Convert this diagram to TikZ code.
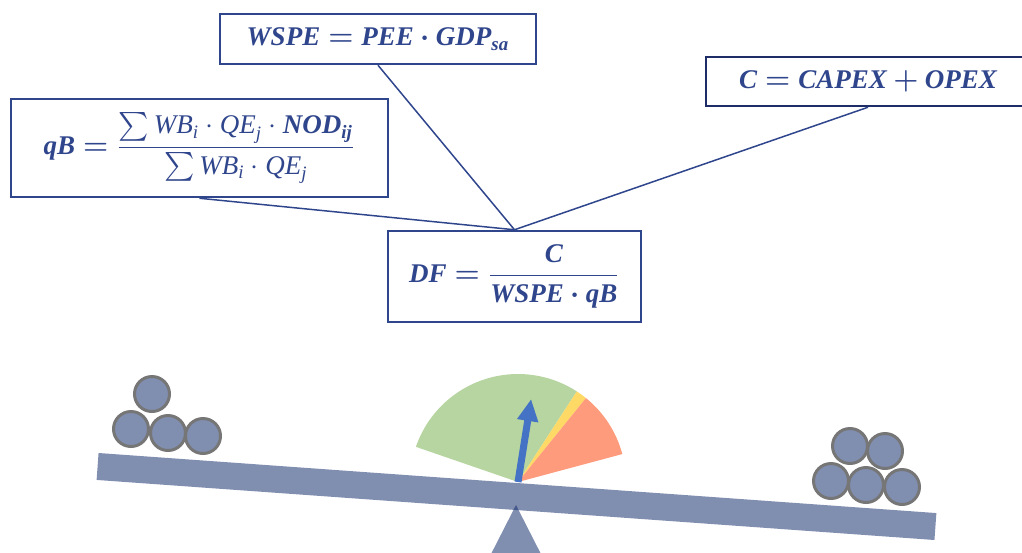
\documentclass[tikz,border=0pt]{standalone}
\usepackage{amsmath}
\usepackage{bm}
\usepackage{fontspec}
\setmainfont{Liberation Serif}
\usetikzlibrary{arrows.meta}
\definecolor{formulablue}{RGB}{47, 69, 140}
\definecolor{framenavy}{RGB}{30, 44, 104}
\definecolor{plankgray}{RGB}{128, 142, 176}
\definecolor{pivotnavy}{RGB}{20, 46, 109}
\definecolor{ballgray}{RGB}{118, 118, 118}
\definecolor{safegreen}{RGB}{183, 213, 160}
\definecolor{warnyellow}{RGB}{255, 217, 102}
\definecolor{dangerred}{RGB}{255, 155, 125}
\definecolor{needleblue}{RGB}{68, 114, 196}
% bold italic and plain italic variable names
\newcommand{\bv}[1]{\text{\bfseries\itshape #1}}
\newcommand{\iv}[1]{\text{\itshape #1}}
\tikzset{%
    formula/.style={%
        draw=formulablue, line width=1.25pt, text=formulablue,
        inner sep=0pt, font=\fontsize{13.5}{16}\selectfont
    },
    link/.style={draw=formulablue, line width=0.75pt},
    ball/.style={%
        circle, fill=plankgray, draw=ballgray, line width=1.5pt,
        minimum size=17.5pt, inner sep=0pt
    },
    plank/.style={%
        fill=plankgray, minimum width=420pt, minimum height=13.5pt,
        inner sep=0pt
    }
}

\begin{document}
\begin{tikzpicture}[x=0.5pt, y=-0.5pt]

    \clip (0, 0) rectangle (1022, 552);

    % Formulas
    \node[formula, minimum width=158pt, minimum height=25pt] (wspe)
        at (378, 39)
        {$\bv{WSPE} \bm{=} \bv{PEE} \bm{\cdot} \bv{GDP}_{\bv{sa}}$};
    \node[formula, draw=framenavy, minimum width=162pt, minimum height=24.5pt]
        (cost) at (868, 81.5) {$\bv{C} \bm{=} \bv{CAPEX} \bm{+} \bv{OPEX}$};
    \node[formula, minimum width=188.5pt, minimum height=49pt] (qb)
        at (199.5, 148)
        {$\bv{qB} \bm{=} \dfrac{\sum \iv{WB}_{\iv{i}} \cdot \iv{QE}_{\iv{j}}
                  \cdot \bv{NOD}_{\bv{ij}}}
                 {\sum \iv{WB}_{\iv{i}} \cdot \iv{QE}_{\iv{j}}}$};
    \node[formula, minimum width=126.5pt, minimum height=45.5pt] (df)
        at (514.5, 276.5)
        {$\bv{DF} \bm{=} \dfrac{\bv{C}}{\bv{WSPE} \bm{\cdot} \bv{qB}}$};

    \draw[link] (wspe.south) -- (df.north);
    \draw[link] (cost.south) -- (df.north);
    \draw[link] (qb.south) -- (df.north);

    % Gauge on the pivot
    \coordinate (hub) at (518, 482);
    \begin{scope}[shift={(hub)}, y=0.5pt]
        \fill[safegreen] (0, 0) -- (161:108) arc[start angle=161,
            end angle=57, radius=108] -- cycle;
        \fill[warnyellow] (0, 0) -- (57:108) arc[start angle=57,
            end angle=51, radius=108] -- cycle;
        \fill[dangerred] (0, 0) -- (51:108) arc[start angle=51,
            end angle=15, radius=108] -- cycle;
        \coordinate (tip) at (81:84);
    \end{scope}
    \draw[needleblue, line width=3.5pt,
        -{Triangle[width=10pt, length=11pt]}] (hub) -- (tip);

    % Seesaw
    \node[plank, rotate=-4.1] (beam) at (516.5, 496.5) {};
    \fill[pivotnavy, fill opacity=0.54]
        (516, 505) -- (487, 562) -- (545, 562) -- cycle;

    % Loads
    \foreach \name/\px/\py in {l1/152/394, l2/131/429, l3/168/433,
                               l4/203/436}{%
        \node[ball] (ball-\name) at (\px, \py) {};
    }
    \foreach \name/\px/\py in {r1/850/446, r2/885/451, r3/831/481,
                               r4/866/485, r5/902/487}{%
        \node[ball] (ball-\name) at (\px, \py) {};
    }

\end{tikzpicture}
\end{document}
